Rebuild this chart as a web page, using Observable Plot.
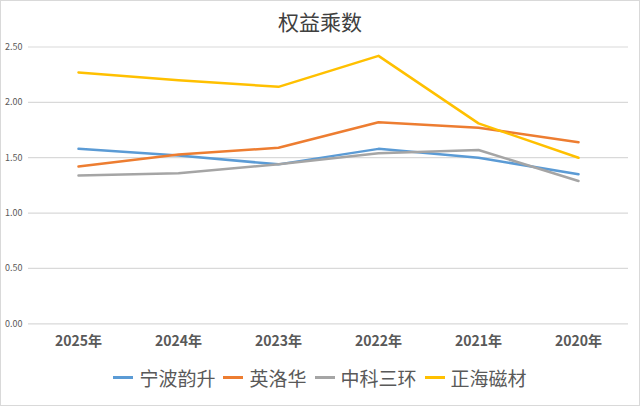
<!DOCTYPE html>
<html>
<head>
<meta charset="utf-8">
<script src="https://cdn.jsdelivr.net/npm/d3@7"></script>
<script src="https://cdn.jsdelivr.net/npm/@observablehq/plot@0.6"></script>
<style>
  html, body { margin: 0; padding: 0; background: #fff; }
  #wrap { position: relative; width: 638px; height: 404px; border: 1px solid #d9d9d9; overflow: hidden; font-family: "Noto Sans CJK SC", sans-serif; }
  #title { height: 35px; line-height: 40px; text-align: center; font-size: 21px; color: #404040; }
  #legend { display: flex; justify-content: center; align-items: center; gap: 8px; font-size: 19px; color: #595959; margin-top: 2px; }
  #legend .item { display: flex; align-items: center; gap: 6px; }
  #legend .sw { width: 20px; height: 3px; display: inline-block; }
  svg { display: block; }
</style>
</head>
<body>
<div id="wrap">
  <div id="title">权益乘数</div>
  <div id="chart"></div>
  <div id="legend"></div>
</div>
<script>
const years = ["2025年", "2024年", "2023年", "2022年", "2021年", "2020年"];
const seriesNames = ["宁波韵升", "英洛华", "中科三环", "正海磁材"];
const ningbo = [1.58, 1.52, 1.44, 1.58, 1.50, 1.35];
const yingluohua = [1.42, 1.53, 1.59, 1.82, 1.77, 1.64];
const zhongke = [1.34, 1.36, 1.44, 1.54, 1.57, 1.29];
const zhenghai = [2.27, 2.20, 2.14, 2.42, 1.81, 1.50];
const colors = ["#5B9BD5", "#ED7D31", "#A5A5A5", "#FFC000"];
const yTicks = [0, 0.5, 1.0, 1.5, 2.0, 2.5];

const allSeries = [ningbo, yingluohua, zhongke, zhenghai];
const data = [];
allSeries.forEach((vals, si) => {
  vals.forEach((v, i) => data.push({ year: years[i], value: v, series: seriesNames[si] }));
});

const chart = Plot.plot({
  width: 638,
  height: 326,
  marginLeft: 27,
  marginRight: 11,
  marginTop: 10.5,
  marginBottom: 38.7,
  style: { fontFamily: "'Noto Sans CJK SC', sans-serif", color: "#595959", background: "#fff" },
  x: { type: "point", domain: years, padding: 0.5, label: null },
  y: { domain: [0, 2.5], label: null },
  color: { domain: seriesNames, range: colors },
  marks: [
    Plot.gridY(yTicks, { stroke: "#d9d9d9", strokeOpacity: 1, strokeWidth: 1.2 }),
    Plot.axisY(yTicks, { tickSize: 0, tickPadding: 6, fontSize: 9, tickFormat: d => d.toFixed(2), label: null, fill: "#595959" }),
    Plot.axisX({ tickSize: 0, tickPadding: 12, fontSize: 14, fontWeight: "bold", label: null, fill: "#595959" }),
    Plot.line(data, { x: "year", y: "value", z: "series", stroke: "series", strokeWidth: 2.5 })
  ]
});
document.getElementById("chart").appendChild(chart);

const legend = document.getElementById("legend");
seriesNames.forEach((name, i) => {
  const item = document.createElement("span");
  item.className = "item";
  const sw = document.createElement("span");
  sw.className = "sw";
  sw.style.background = colors[i];
  item.appendChild(sw);
  const t = document.createElement("span");
  t.textContent = name;
  item.appendChild(t);
  legend.appendChild(item);
});
</script>
</body>
</html>
